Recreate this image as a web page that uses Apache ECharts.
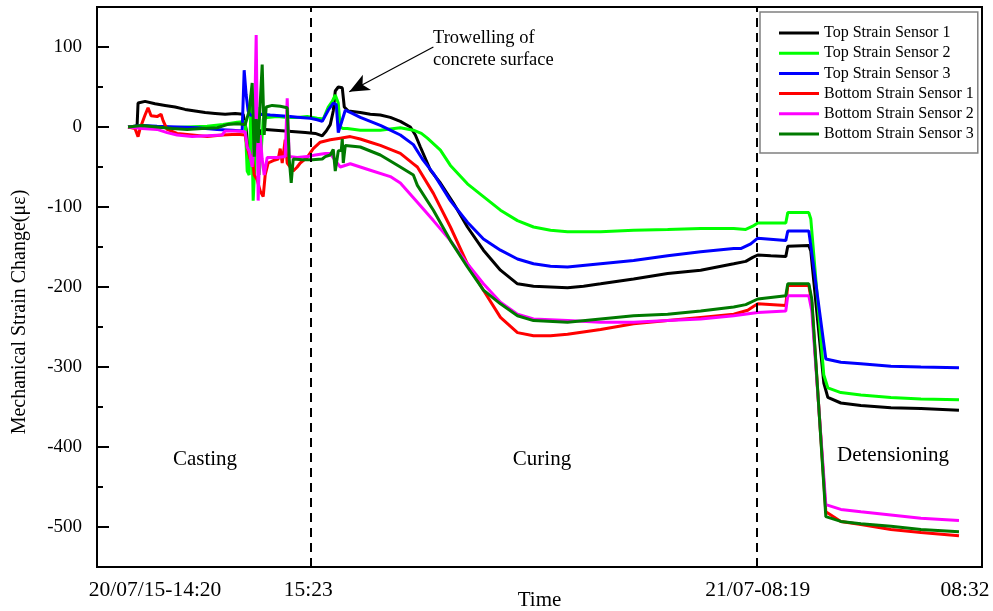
<!DOCTYPE html>
<html><head><meta charset="utf-8">
<script src="https://cdn.jsdelivr.net/npm/echarts@6/dist/echarts.min.js"></script>
<style>html,body{margin:0;padding:0;background:#fff}#c{width:993px;height:611px}</style>
</head><body><div id="c"></div>
<script>
// x = sample position along the (non-linear) time axis, y = strain change (µε)
const seriesNames = ['Top Strain Sensor 1','Top Strain Sensor 2','Top Strain Sensor 3','Bottom Strain Sensor 1','Bottom Strain Sensor 2','Bottom Strain Sensor 3'];
const seriesColors = ['#000000','#00ff00','#0000ff','#ff0000','#ff00ff','#007a00'];

const top1 = [[31,0],[38,1],[40,0],[41,30],[48,32],[58,29],[68,27],[78,25],[88,22],[98,20],[108,18],[118,17],[128,16],[138,17],[146,16],[149,-3],[151,-30],[154,-28],[157,-10],[160,-28],[163,-5],[168,-3],[178,-4],[188,-5],[198,-6],[208,-7],[218,-8],[225,-11],[229,-5],[233,3],[236,20],[238,45],[241,50],[245,49],[247,25],[251,20],[263,18],[273,16],[283,15],[293,12],[303,7],[313,0],[318,-10],[323,-25],[333,-54],[343,-70],[356,-95],[370,-125],[386,-154],[403,-179],[420,-196],[436,-199],[453,-200],[470,-201],[486,-199],[503,-196],[536,-190],[570,-183],[603,-179],[636,-171],[648,-168],[655,-163],[660,-160],[673,-161],[688,-162],[690,-149],[711,-148],[713,-155],[726,-320],[730,-338],[743,-345],[763,-348],[793,-351],[823,-352],[861,-354]];

const top2 = [[31,0],[50,1],[70,-1],[90,0],[110,1],[126,3],[140,6],[148,7],[150,-55],[152,-60],[154,40],[156,-92],[158,-40],[160,25],[162,-60],[164,-30],[166,10],[170,12],[180,13],[190,12],[200,12],[210,13],[220,11],[226,10],[231,25],[235,32],[238,40],[241,30],[243,0],[246,-2],[250,-2],[263,-4],[283,-4],[303,-1],[316,-4],[324,-8],[330,-14],[343,-29],[353,-48],[370,-71],[386,-87],[403,-104],[420,-117],[436,-125],[453,-129],[470,-131],[503,-131],[536,-129],[570,-128],[603,-127],[636,-127],[648,-128],[655,-124],[660,-120],[688,-120],[690,-107],[711,-107],[713,-115],[726,-310],[730,-326],[743,-332],[763,-335],[793,-338],[823,-340],[861,-341]];

const top3 = [[31,0],[45,2],[60,1],[80,0],[100,-1],[120,-3],[135,-4],[145,-5],[147,71],[149,40],[151,20],[153,15],[158,14],[165,16],[173,15],[183,14],[193,13],[203,12],[213,11],[220,9],[225,7],[231,21],[236,30],[239,28],[241,-7],[244,5],[248,21],[255,17],[263,12],[273,7],[283,2],[293,-4],[303,-10],[316,-22],[325,-40],[336,-58],[353,-92],[370,-119],[386,-140],[403,-154],[420,-165],[436,-171],[453,-174],[470,-175],[503,-171],[536,-167],[570,-161],[603,-156],[636,-152],[643,-152],[653,-146],[660,-139],[688,-142],[690,-130],[711,-130],[715,-167],[728,-290],[743,-294],[763,-296],[793,-299],[823,-300],[861,-301]];

const bottom1 = [[31,0],[38,-2],[41,-12],[43,-2],[48,15],[51,24],[54,14],[60,13],[64,16],[66,8],[70,-3],[80,-8],[95,-10],[110,-12],[125,-10],[140,-9],[148,-10],[150,-25],[153,-40],[155,-35],[157,-60],[160,-66],[163,-80],[166,-87],[168,-60],[171,-45],[176,-42],[181,-40],[183,-27],[185,-45],[188,-16],[190,-45],[193,-50],[196,-55],[200,-50],[203,-45],[210,-38],[216,-27],[223,-19],[233,-16],[243,-14],[253,-12],[263,-15],[273,-19],[283,-23],[293,-28],[303,-33],[316,-46],[320,-50],[336,-83],[353,-125],[370,-171],[386,-204],[403,-238],[420,-257],[436,-261],[453,-261],[470,-259],[503,-253],[536,-246],[570,-242],[603,-238],[636,-234],[650,-229],[656,-224],[660,-221],[688,-223],[690,-198],[711,-198],[714,-220],[728,-481],[743,-493],[763,-497],[793,-503],[823,-507],[861,-511]];

const bottom2 = [[31,0],[45,-2],[60,-3],[70,-7],[80,-10],[95,-12],[110,-11],[125,-10],[128,-5],[140,-5],[148,-6],[150,-25],[152,-30],[155,-50],[157,-20],[159,115],[161,-92],[163,-10],[165,-40],[167,-60],[170,-38],[180,-38],[188,-37],[190,36],[192,-37],[200,-38],[210,-37],[218,-35],[228,-33],[233,-33],[238,-42],[243,-50],[253,-46],[273,-54],[293,-62],[303,-70],[320,-94],[336,-117],[353,-142],[370,-171],[386,-196],[403,-219],[420,-234],[436,-240],[470,-242],[503,-244],[536,-244],[570,-242],[603,-240],[636,-236],[660,-232],[688,-230],[690,-211],[711,-211],[714,-230],[728,-472],[743,-478],[763,-481],[793,-485],[823,-489],[861,-492]];

const bottom3 = [[31,0],[45,2],[60,0],[75,-2],[90,-3],[105,-2],[120,-1],[130,3],[140,4],[148,3],[152,20],[155,55],[157,-37],[159,10],[161,-20],[165,78],[167,-10],[169,25],[175,27],[183,26],[190,24],[192,-40],[194,-70],[196,-40],[205,-41],[215,-41],[225,-40],[228,-37],[233,-35],[236,-28],[238,-55],[241,-30],[244,-29],[245,-15],[246,-45],[248,-23],[263,-25],[283,-35],[303,-50],[316,-60],[320,-73],[336,-104],[353,-142],[370,-175],[386,-204],[403,-221],[420,-236],[436,-242],[470,-244],[503,-240],[536,-236],[570,-234],[603,-230],[636,-225],[648,-222],[660,-215],[688,-211],[690,-196],[711,-196],[714,-215],[728,-487],[743,-493],[763,-496],[793,-499],[823,-503],[861,-506]];

const xTickPositions = [58, 211, 660, 867];
const xTickLabels = ['20/07/15-14:20', '15:23', '21/07-08:19', '08:32'];
const phaseBoundaries = [214, 659];
const yMajorTicks = [-500, -400, -300, -200, -100, 0, 100];
const yMinorTicks = [-450, -350, -250, -150, -50, 50];
const arrowStart = [336, 100];
const arrowEnd = [252, 44];

const allData = [top1, top2, top3, bottom1, bottom2, bottom3];
const FONT = '"Liberation Serif", "Times New Roman", serif';

const chart = echarts.init(document.getElementById('c'), null, {renderer: 'canvas'});

const series = allData.map((d, i) => ({
  name: seriesNames[i],
  type: 'line',
  data: d,
  symbol: 'none',
  showSymbol: false,
  lineStyle: {color: seriesColors[i], width: 3},
  itemStyle: {color: seriesColors[i]},
  emphasis: {disabled: true},
  animation: false
}));

series[0].markLine = {
  silent: true,
  animation: false,
  symbol: ['none', 'none'],
  label: {show: false},
  emphasis: {disabled: true},
  data: [
    {xAxis: phaseBoundaries[0], lineStyle: {color: '#000', type: [9, 6], width: 2}},
    {xAxis: phaseBoundaries[1], lineStyle: {color: '#000', type: [9, 6], width: 2}},
    [
      {coord: arrowStart, symbol: 'none', lineStyle: {color: '#000', type: 'solid', width: 1.2}},
      {coord: arrowEnd, symbol: 'arrow', symbolSize: [13, 20], lineStyle: {color: '#000', type: 'solid', width: 1.2}, itemStyle: {color: '#000'}}
    ]
  ]
};

const option = {
  backgroundColor: '#fff',
  animation: false,
  grid: {left: 97, right: 11, top: 7, bottom: 44, show: true, borderColor: '#000', borderWidth: 2, backgroundColor: 'transparent', containLabel: false, outerBoundsMode: 'none'},
  legend: {
    orient: 'vertical',
    left: 760, top: 12,
    padding: [13, 4, 11, 19],
    itemWidth: 40, itemHeight: 14, itemGap: 4.2,
    icon: 'path://M0,0H40V3H0Z',
    backgroundColor: '#fff',
    borderColor: '#808080', borderWidth: 1.5,
    textStyle: {fontFamily: FONT, fontSize: 16, color: '#000'},
    data: seriesNames
  },
  xAxis: {
    type: 'value', min: 0, max: 884,
    name: 'Time', nameLocation: 'middle', nameGap: 23, nameMoveOverlap: false,
    nameTextStyle: {fontFamily: FONT, fontSize: 21, color: '#000'},
    axisLine: {show: true, onZero: false, lineStyle: {color: '#000', width: 2}},
    axisTick: {show: false},
    splitLine: {show: false},
    axisLabel: {
      customValues: xTickPositions,
      formatter: v => xTickLabels[xTickPositions.indexOf(v)] || '',
      fontFamily: FONT, fontSize: 21.5, color: '#000', margin: 12
    }
  },
  yAxis: [{
    type: 'value', min: -550, max: 150,
    axisLine: {show: true, onZero: false, lineStyle: {color: '#000', width: 2}},
    axisTick: {show: true, inside: true, length: 12, customValues: yMajorTicks, lineStyle: {color: '#000', width: 2}},
    splitLine: {show: false},
    axisLabel: {customValues: yMajorTicks, fontFamily: FONT, fontSize: 19, color: '#000', margin: 15}
  }, {
    type: 'value', min: -550, max: 150, position: 'left',
    axisLine: {show: false},
    axisTick: {show: true, inside: true, length: 6, customValues: yMinorTicks, lineStyle: {color: '#000', width: 2}},
    axisLabel: {show: false},
    splitLine: {show: false}
  }],
  graphic: [
    {type: 'text', x: 20, y: 312, rotation: Math.PI / 2, silent: true, style: {text: 'Mechanical Strain Change(με)', font: '20px ' + FONT, fill: '#000', align: 'center', verticalAlign: 'middle'}},
    {type: 'text', left: 433, top: 27, silent: true, style: {text: 'Trowelling of\nconcrete surface', font: '18.5px ' + FONT, fill: '#000', lineHeight: 22}},
    {type: 'text', x: 205, y: 459, silent: true, style: {text: 'Casting', font: '21px ' + FONT, fill: '#000', align: 'center', verticalAlign: 'middle'}},
    {type: 'text', x: 542, y: 459, silent: true, style: {text: 'Curing', font: '21px ' + FONT, fill: '#000', align: 'center', verticalAlign: 'middle'}},
    {type: 'text', x: 893, y: 455, silent: true, style: {text: 'Detensioning', font: '21px ' + FONT, fill: '#000', align: 'center', verticalAlign: 'middle'}}
  ],
  series: series
};
chart.setOption(option);
</script>
</body></html>
